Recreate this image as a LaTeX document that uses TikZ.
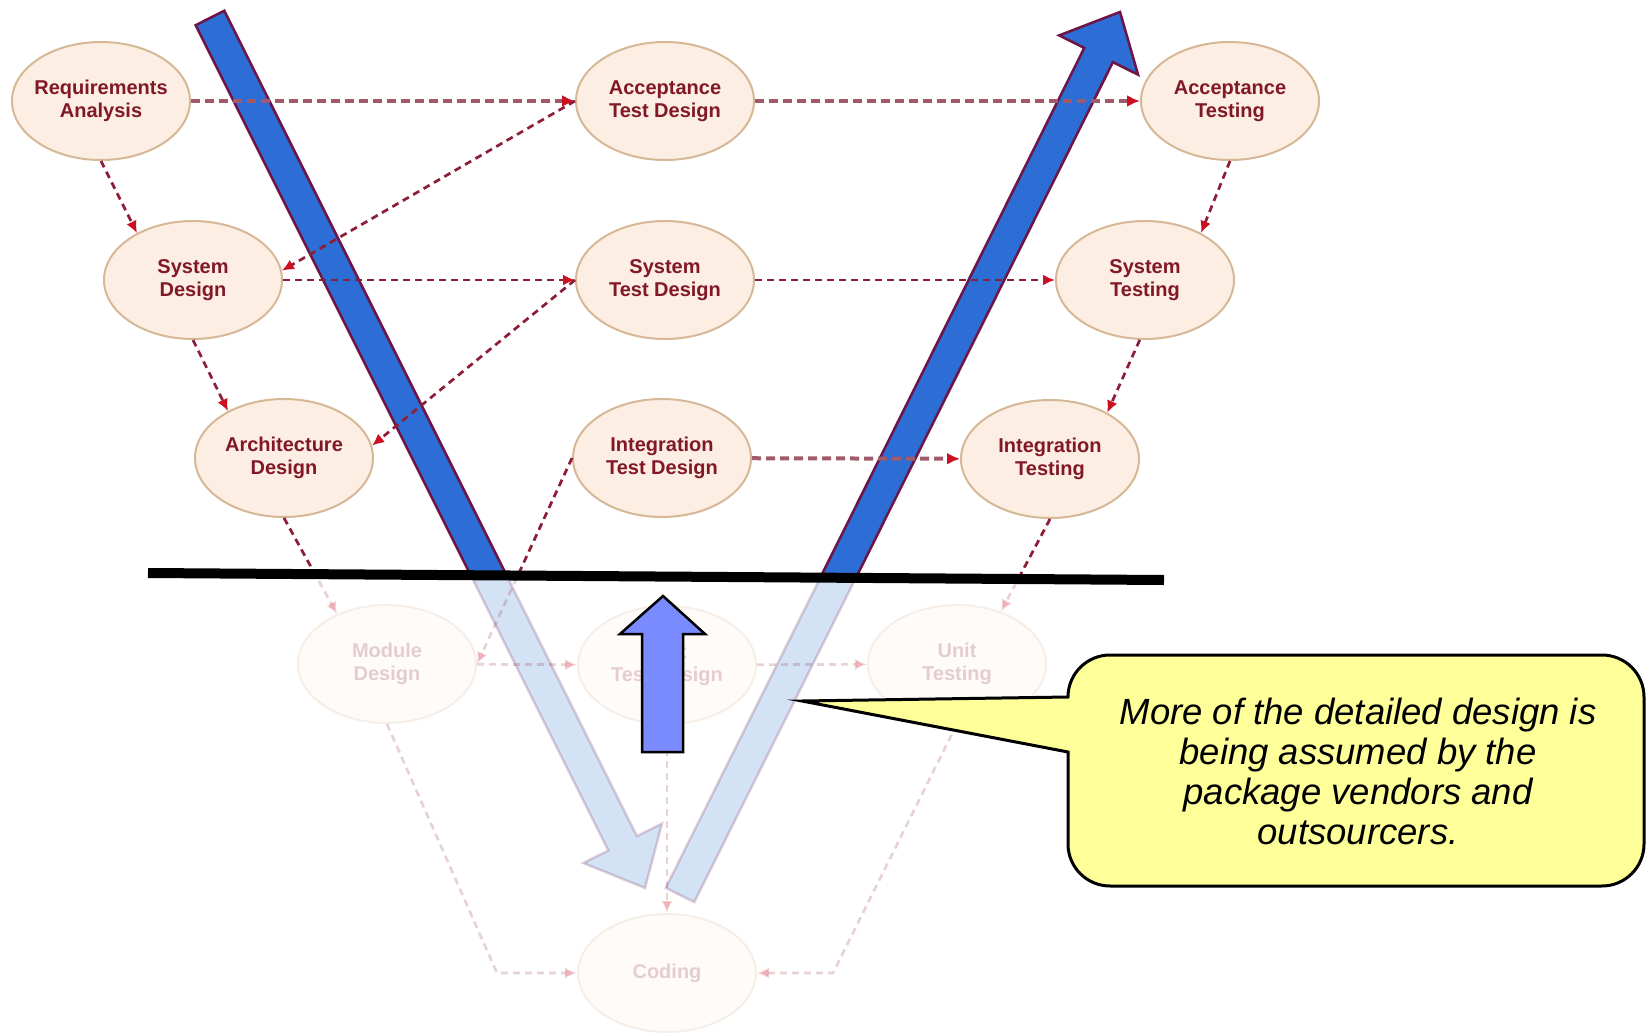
\documentclass[tikz,border=0pt]{standalone}
\usepackage{fontspec}
\setmainfont{Liberation Sans}
\usetikzlibrary{shapes.geometric,arrows.meta}
\definecolor{nodefill}{RGB}{252,238,226}
\definecolor{nodeborder}{RGB}{214,184,150}
\definecolor{nodetext}{RGB}{128,24,40}
\definecolor{barblue}{RGB}{44,110,214}
\definecolor{baredge}{RGB}{110,20,70}
\definecolor{upblue}{RGB}{122,139,255}
\definecolor{calloutfill}{RGB}{255,255,153}
\definecolor{dashmauve}{RGB}{160,90,105}
\definecolor{dashred}{RGB}{140,30,55}
\definecolor{tipred}{RGB}{204,16,32}
\begin{document}
\begin{tikzpicture}[x=1pt,y=-1pt,
  vnode/.style={ellipse, draw=nodeborder, line width=2pt, fill=nodefill,
    minimum width=178pt, minimum height=118pt, inner ysep=0pt, inner xsep=-8pt,
    align=center, text=nodetext, font=\fontsize{20}{23}\selectfont\bfseries},
  conn/.style={draw=dashred, line width=2.7pt, dash pattern=on 7pt off 5pt,
    -{Latex[length=12pt,width=11pt,color=tipred]}},
  connthick/.style={draw=dashmauve, line width=4pt, dash pattern=on 9pt off 5pt,
    -{Latex[length=13pt,width=12pt,color=tipred]}},
  bigbar/.style={fill=barblue, draw=baredge, line width=2.5pt, line join=miter},
  fadedlayer/.style={opacity=0.2},
]
\useasboundingbox (0,0) rectangle (1647,1033);
\fill[white] (0,0) rectangle (1647,1033);

% ---------- big V arrows: faded full, then opaque above the line ----------
\begin{scope}[fadedlayer]
  \draw[bigbar] (224.3,10.8) -- (195.7,25.2) -- (608.3,850.5) -- (583.2,863.0)
     -- (645,888) -- (662.0,823.6) -- (636.9,836.1) -- cycle;
  \draw[bigbar] (694.3,902.1) -- (665.7,887.9) -- (1084.3,47.9) -- (1059.2,35.4)
     -- (1120,12) -- (1138.0,74.6) -- (1112.9,62.1) -- cycle;
\end{scope}
\begin{scope}
  \clip (0,0) -- (1647,0) -- (1647,583) -- (0,572) -- cycle;
  \draw[bigbar] (224.3,10.8) -- (195.7,25.2) -- (608.3,850.5) -- (583.2,863.0)
     -- (645,888) -- (662.0,823.6) -- (636.9,836.1) -- cycle;
  \draw[bigbar] (694.3,902.1) -- (665.7,887.9) -- (1084.3,47.9) -- (1059.2,35.4)
     -- (1120,12) -- (1138.0,74.6) -- (1112.9,62.1) -- cycle;
\end{scope}

% ---------- upper nodes ----------
\node[vnode] (ra)  at (101,101)  {Requirements\\Analysis};
\node[vnode] (atd) at (665,101)  {Acceptance\\Test Design};
\node[vnode] (at)  at (1230,101) {Acceptance\\Testing};
\node[vnode] (sd)  at (193,280)  {System\\Design};
\node[vnode] (std) at (665,280)  {System\\Test Design};
\node[vnode] (st)  at (1145,280) {System\\Testing};
\node[vnode] (ad)  at (284,458)  {Architecture\\Design};
\node[vnode] (itd) at (662,458)  {Integration\\Test Design};
\node[vnode] (it)  at (1050,459) {Integration\\Testing};

% ---------- lower (faded) part ----------
\begin{scope}[fadedlayer]
  \node[vnode] (md)     at (387,664) {Module\\Design};
  \node[vnode] (utd)    at (667,665) {Unit\\Test Design};
  \node[vnode] (ut)     at (957,664) {Unit\\Testing};
  \node[vnode] (coding) at (667,973) {Coding};
  \coordinate (cl) at (497,973);
  \coordinate (cr) at (833,973);
  \draw[conn] (md) -- (utd);
  \draw[conn] (utd) -- (ut);
  \draw[conn] (md.south) -- (cl) -- (coding.west);
  \draw[conn] (ut.south) -- (cr) -- (coding.east);
  \draw[conn] (utd.south) -- (coding.north);
  \draw[conn] (ad.south) -- (md.135);
  \draw[conn] (itd.west) -- (md.east);
  \draw[conn] (it.south) -- (ut.50);
\end{scope}
\begin{scope}
  \clip (0,0) -- (1647,0) -- (1647,583) -- (0,572) -- cycle;
  \draw[conn] (ad.south) -- (md.135);
  \draw[conn] (itd.west) -- (md.east);
  \draw[conn] (it.south) -- (ut.50);
\end{scope}

% ---------- upper connectors ----------
\draw[connthick] (ra) -- (atd);
\draw[connthick] (atd) -- (at);
\draw[conn] (ra.south) -- (sd.140);
\draw[conn] (atd.west) -- (sd.6);
\draw[conn] (sd) -- (std);
\draw[conn] (std) -- (st);
\draw[conn] (at.south) -- (st.40);
\draw[conn] (sd.south) -- (ad.140);
\draw[conn] (std.west) -- (ad.8);
\draw[connthick] (itd) -- (it);
\draw[conn] (st.265) -- (it.39);

% ---------- black line ----------
\draw[black, line width=10pt] (148,573) -- (1164,580);

% ---------- small up arrow ----------
\draw[fill=upblue, draw=black, line width=2.5pt, line join=miter]
  (663,596) -- (705,634) -- (683,634) -- (683,752) -- (642,752) -- (642,634)
  -- (620,634) -- cycle;

% ---------- callout ----------
\draw[fill=calloutfill, draw=black, line width=3pt, line join=miter]
  (1068,697) .. controls (1068,673.8) and (1086.8,655) .. (1110,655)
  -- (1602,655) .. controls (1625.2,655) and (1644,673.8) .. (1644,697)
  -- (1644,844) .. controls (1644,867.2) and (1625.2,886) .. (1602,886)
  -- (1110,886) .. controls (1086.8,886) and (1068,867.2) .. (1068,844)
  -- (1068,752) -- (802,701) -- cycle;
\node[font=\fontsize{36.5}{40}\selectfont\itshape, align=center, text=black, inner sep=0pt]
  (note) at (1358,771)
  {More of the detailed design is\\being assumed by the\\package vendors and\\outsourcers.};
\end{tikzpicture}
\end{document}
